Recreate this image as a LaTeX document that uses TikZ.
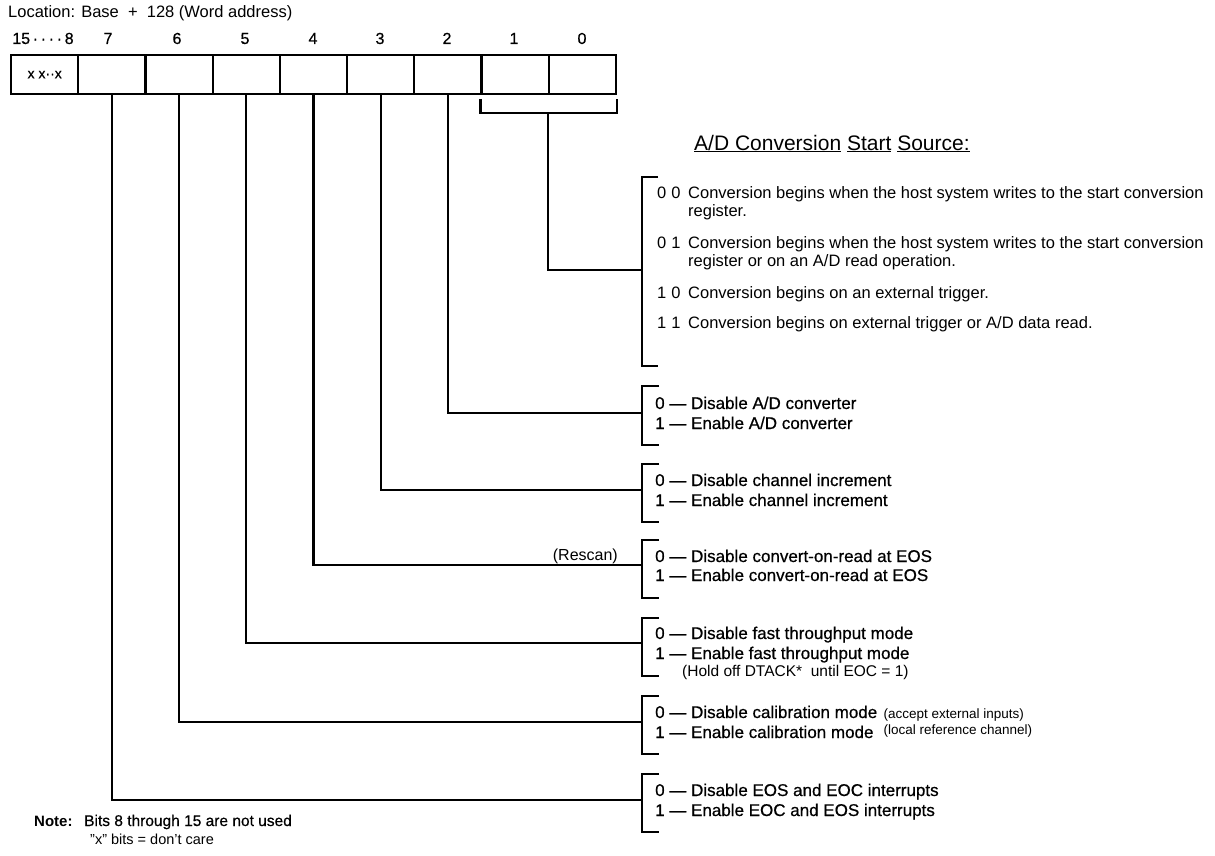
\documentclass[tikz,border=0pt]{standalone}
\usepackage{fontspec}
\setmainfont{Liberation Sans}
\newfontfamily\heavyfont[FakeBold=0.6]{Liberation Sans}
\begin{document}
\begin{tikzpicture}[x=1pt,y=-1pt,
  line/.style={line width=2.2pt, line join=miter},
  cell/.style={draw, line width=2.2pt, minimum width=67.2pt, minimum height=39pt, inner sep=0pt, anchor=north west, font=\heavyfont\fontsize{14}{16}\selectfont},
  lbl/.style={anchor=base, inner sep=0pt, font=\heavyfont\fontsize{16}{19}\selectfont},
  gone/.style={anchor=base west, inner sep=0pt, font=\fontsize{16.5}{19}\selectfont},
  gtwo/.style={anchor=base west, inner sep=0pt, font=\heavyfont\fontsize{17}{20}\selectfont},
  gnote/.style={anchor=base west, inner sep=0pt, font=\fontsize{13.5}{16}\selectfont},
]
\useasboundingbox (0,0) rectangle (1215,856);

% header
\node[anchor=base west, inner sep=0pt, font=\fontsize{16.5}{19}\selectfont] (title) at (8,18) {Location: Base~ +~ 128 (Word address)};

% register cells
\node[cell] (c15) at (10,54) {x x··x};
\node[cell] (c7) at (77.2,54) {};
\node[cell] (c6) at (144.4,54) {};
\node[cell] (c5) at (211.6,54) {};
\node[cell] (c4) at (278.8,54) {};
\node[cell] (c3) at (346,54) {};
\node[cell] (c2) at (413.2,54) {};
\node[cell] (c1) at (480.4,54) {};
\node[cell] (c0) at (547.6,54) {};

% bit numbers
\node[lbl] (b15) at (43,44) {15\,·\,·\,·\,·\,8};
\node[lbl] (b7) at (108,44) {7};
\node[lbl] (b6) at (177,44) {6};
\node[lbl] (b5) at (245,44) {5};
\node[lbl] (b4) at (313,44) {4};
\node[lbl] (b3) at (380,44) {3};
\node[lbl] (b2) at (447,44) {2};
\node[lbl] (b1) at (514,44) {1};
\node[lbl] (b0) at (582,44) {0};

% A/D section title
\node[anchor=base west, inner sep=0pt, font=\fontsize{21}{24}\selectfont] (adt) at (694,150)
  {\underline{A/D Conversion}\ \underline{Start}\ \underline{Source:}};

% join coordinates on brackets
\coordinate (j1) at (642,270);
\coordinate (j2) at (642,413);
\coordinate (j3) at (642,490);
\coordinate (j4) at (642,565);
\coordinate (j5) at (642,643);
\coordinate (j6) at (642,722);
\coordinate (j7) at (642,800);

% bits 1-0 bracket and stem
\draw[line] (c1.south west |- 0,99) -- (c1.south west |- 0,113) -- (c0.south east |- 0,113) -- (c0.south east |- 0,99);
\coordinate (s10) at (c0.south west |- 0,113);
\draw[line] (s10) |- (j1);

% connectors from bits
\draw[line] (c2.south) |- (j2);
\draw[line] (c3.south) |- (j3);
\draw[line] (c4.south) |- (j4);
\draw[line] (c5.south) |- (j5);
\draw[line] (c6.south) |- (j6);
\draw[line] (c7.south) |- (j7);

% brackets
\draw[line] (658,177) -- (642,177) -- (642,366) -- (658,366);
\draw[line] (659,386) -- (642,386) -- (642,445) -- (659,445);
\draw[line] (659,464) -- (642,464) -- (642,522) -- (659,522);
\draw[line] (659,540) -- (642,540) -- (642,598) -- (659,598);
\draw[line] (659,618) -- (642,618) -- (642,676) -- (659,676);
\draw[line] (659,696) -- (642,696) -- (642,754) -- (659,754);
\draw[line] (659,774) -- (642,774) -- (642,832) -- (659,832);

% group 1 texts
\node[gone] (a00) at (657,198) {0\hspace{5pt}0};
\node[gone] (a00t) at (688,198) {Conversion begins when the host system writes to the start conversion};
\node[gone] (a00u) at (688,216) {register.};
\node[gone] (a01) at (657,248) {0\hspace{5pt}1};
\node[gone] (a01t) at (688,248) {Conversion begins when the host system writes to the start conversion};
\node[gone] (a01u) at (688,266) {register or on an A/D read operation.};
\node[gone] (a10) at (657,298) {1\hspace{5pt}0};
\node[gone] (a10t) at (688,298) {Conversion begins on an external trigger.};
\node[gone] (a11) at (657,328) {1\hspace{5pt}1};
\node[gone] (a11t) at (688,328) {Conversion begins on external trigger or A/D data read.};

% groups 2-7
\node[gtwo] (g2a) at (655,409) {0 — Disable A/D converter};
\node[gtwo] (g2b) at (655,429) {1 — Enable A/D converter};
\node[gtwo] (g3a) at (655,486) {0 — Disable channel increment};
\node[gtwo] (g3b) at (655,506) {1 — Enable channel increment};
\node[anchor=base east, inner sep=0pt, font=\fontsize{16}{19}\selectfont] (resc) at (618,560) {(Rescan)};
\node[gtwo] (g4a) at (655,562) {0 — Disable convert-on-read at EOS};
\node[gtwo] (g4b) at (655,581) {1 — Enable convert-on-read at EOS};
\node[gtwo] (g5a) at (655,639) {0 — Disable fast throughput mode};
\node[gtwo] (g5b) at (655,659) {1 — Enable fast throughput mode};
\node[anchor=base west, inner sep=0pt, font=\fontsize{15.5}{18}\selectfont] (g5c) at (682,676) {(Hold off DTACK*~ until EOC = 1)};
\node[gtwo] (g6a) at (655,718) {0 — Disable calibration mode};
\node[gtwo] (g6b) at (655,738) {1 — Enable calibration mode};
\node[gnote] (g6p) at ([xshift=6pt]g6a.base east) {(accept external inputs)};
\node[gnote] (g6q) at ([xshift=6pt]g6a.base east |- 0,734) {(local reference channel)};
\node[gtwo] (g7a) at (655,796) {0 — Disable EOS and EOC interrupts};
\node[gtwo] (g7b) at (655,816) {1 — Enable EOC and EOS interrupts};

% note
\node[anchor=base west, inner sep=0pt, font=\bfseries\fontsize{15}{18}\selectfont] (note) at (34,826) {Note:};
\node[anchor=base west, inner sep=0pt, font=\heavyfont\fontsize{15.5}{18}\selectfont] (note1) at (84,826) {Bits 8 through 15 are not used};
\node[anchor=base west, inner sep=0pt, font=\fontsize{14.5}{17}\selectfont] (note2) at (90,844) {{\char34}x{\char34} bits = don't care};
\end{tikzpicture}
\end{document}
